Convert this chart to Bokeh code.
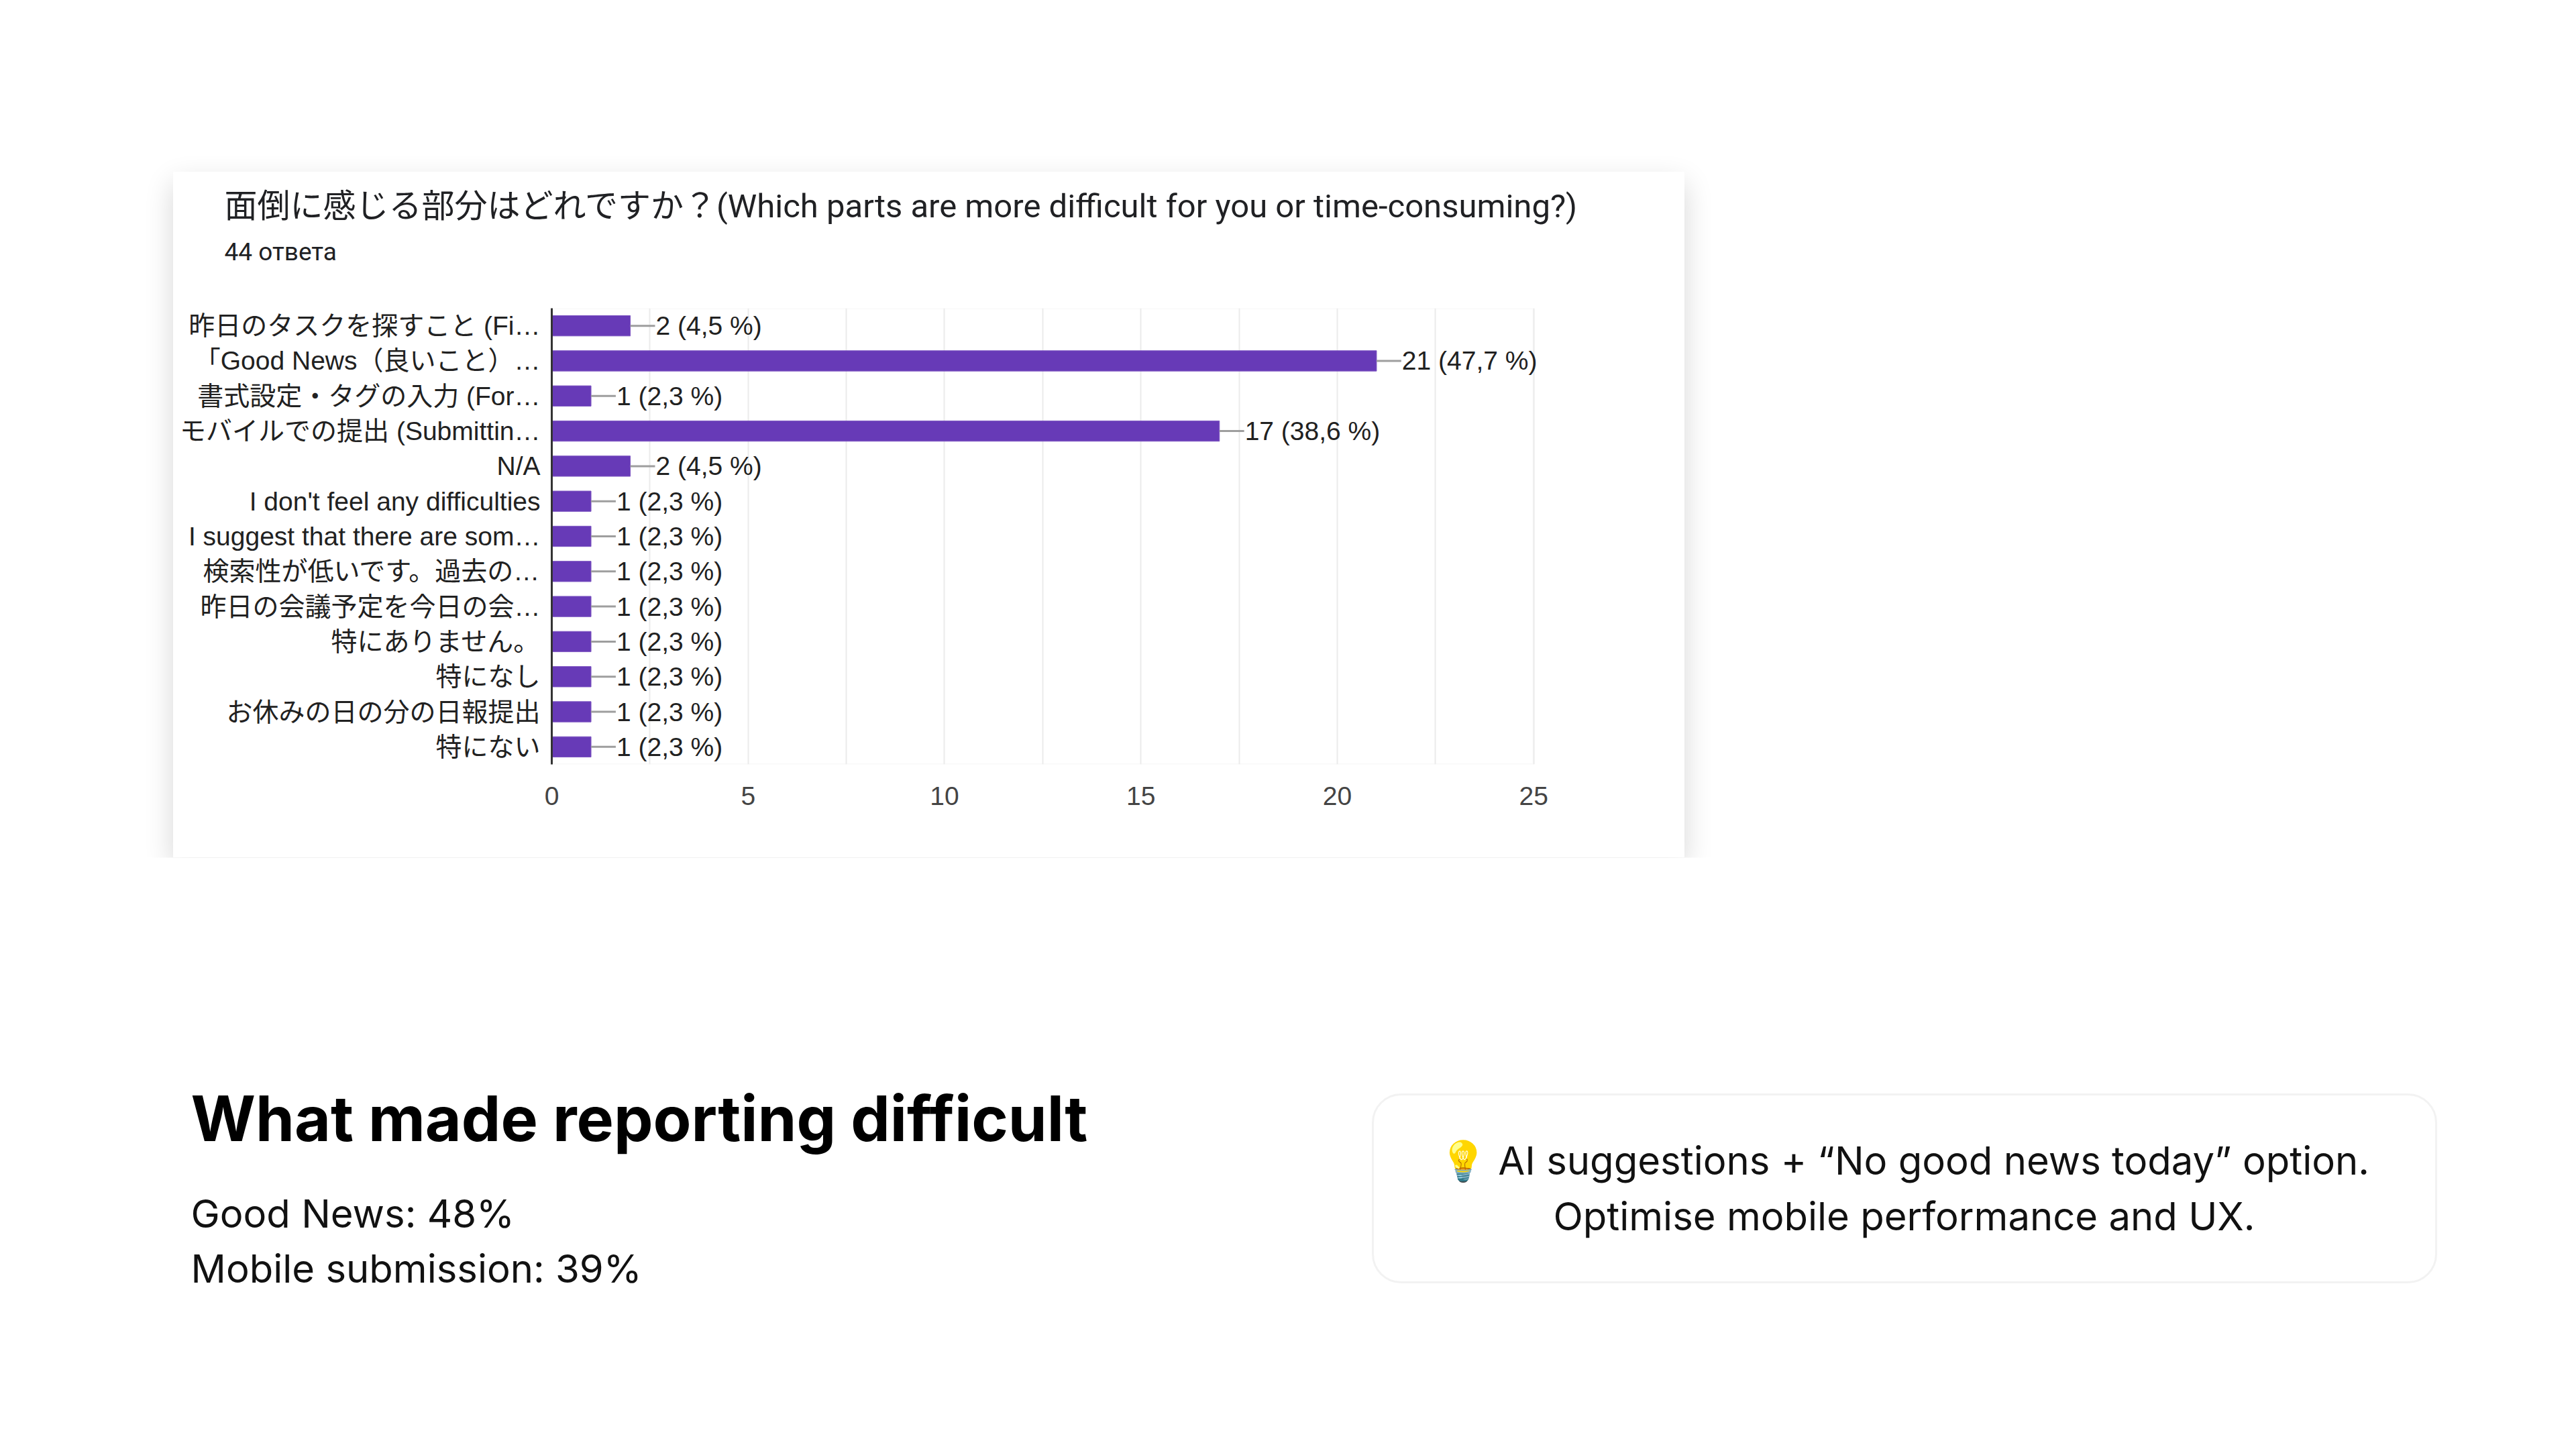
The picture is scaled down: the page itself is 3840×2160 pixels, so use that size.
from bokeh.embed import file_html
from bokeh.resources import INLINE
from bokeh.layouts import column
from bokeh.models import (ColumnDataSource, FactorRange, Range1d, Label, Title,
                          BoxAnnotation, FixedTicker)
from bokeh.plotting import figure

# survey data
answers = [
    "昨日のタスクを探すこと (Fi…",
    "「Good News（良いこと）…",
    "書式設定・タグの入力 (For…",
    "モバイルでの提出 (Submittin…",
    "N/A",
    "I don't feel any difficulties",
    "I suggest that there are som…",
    "検索性が低いです。過去の…",
    "昨日の会議予定を今日の会…",
    "特にありません。",
    "特になし",
    "お休みの日の分の日報提出",
    "特にない",
]
counts = [2, 21, 1, 17, 2, 1, 1, 1, 1, 1, 1, 1, 1]
total_responses = 44
x_ticks = [0, 5, 10, 15, 20, 25]

question = "面倒に感じる部分はどれですか？(Which parts are more difficult for you or time-consuming?)"
responses_text = f"{total_responses} ответа"

headline = "What made reporting difficult"
facts = ["Good News: 48%", "Mobile submission: 39%"]
callout = ["💡 AI suggestions + “No good news today” option.",
           "Optimise mobile performance and UX."]

HEAD_FONT = "Roboto, 'Noto Sans CJK JP'"
CHART_FONT = "'Liberation Sans', 'Noto Sans CJK JP'"
PURPLE = "#673ab7"
GRID = "#ebebeb"
GAP = 0.63          # connector length in data units
X_MAX = x_ticks[-1]
X_ROOM = 2.5        # room right of the last tick for the value labels
PX_PER_UNIT = 58.56


def pct_label(c):
    return f"{c} ({c / total_responses * 100:.1f} %)".replace(".", ",")


source = ColumnDataSource(data={
    "answer": answers,
    "count": counts,
    "line_end": [c + GAP for c in counts],
    "label": [pct_label(c) for c in counts],
})

# ---- chart card ----
frame_w = round(PX_PER_UNIT * (X_MAX + X_ROOM))
card = figure(
    y_range=FactorRange(factors=list(reversed(answers))),
    x_range=Range1d(0, X_MAX + X_ROOM),
    frame_width=frame_w, frame_height=680,
    min_border_left=564, min_border_right=2253 - 564 - frame_w,
    min_border_top=203, min_border_bottom=139,
    output_backend="svg", toolbar_location=None,
    frame_align=False,
    margin=(256, 0, 0, 258),
    styles={"box-shadow": "0 16px 40px rgba(0,0,0,0.16)"},
)
card.background_fill_color = "white"
card.border_fill_color = "white"
card.outline_line_color = None

# plot-area border, only up to the last tick
card.add_layout(BoxAnnotation(left=0, right=X_MAX, fill_alpha=0,
                              line_color=GRID, line_width=3, level="underlay"))

card.hbar(y="answer", right="count", height=0.58, source=source,
          fill_color=PURPLE, line_color="#7e57c2", line_width=1)
card.segment(x0="count", y0="answer", x1="line_end", y1="answer", source=source,
             line_color="#9e9e9e", line_width=3)
card.text(x="line_end", y="answer", text="label", source=source,
          text_font={"value": CHART_FONT}, text_font_size="39px", text_color="#212121",
          text_baseline="middle", text_align="left", x_offset=1)

xa = card.xaxis[0]
xa.ticker = FixedTicker(ticks=x_ticks,
                        minor_ticks=[t + 2.5 for t in x_ticks[:-1]])
xa.axis_line_color = None
xa.major_tick_line_color = None
xa.minor_tick_line_color = None
xa.major_label_text_font = CHART_FONT
xa.major_label_text_font_size = "39px"
xa.major_label_text_color = "#444444"
xa.major_label_standoff = 27

ya = card.yaxis[0]
ya.axis_line_color = "#333333"
ya.axis_line_width = 3
ya.major_tick_line_color = None
ya.minor_tick_line_color = None
ya.major_label_text_font = CHART_FONT
ya.major_label_text_font_size = "39px"
ya.major_label_text_color = "#212121"
ya.major_label_standoff = 11

card.ygrid.grid_line_color = None
card.xgrid.grid_line_color = GRID
card.xgrid.grid_line_width = 2
card.xgrid.minor_grid_line_color = GRID
card.xgrid.minor_grid_line_width = 2

# header of the card; the first one added sits closest to the plot
card.add_layout(Title(text=" ", text_font_size="2px", standoff=59), "above")
card.add_layout(Title(text=responses_text, align="left", offset=-488, standoff=0,
                      text_font=HEAD_FONT, text_font_size="37px",
                      text_font_style="normal", text_color="#202124"), "above")
card.add_layout(Title(text=question, align="left", offset=-488, standoff=32,
                      text_font=HEAD_FONT, text_font_size="49px",
                      text_font_style="normal", text_color="#202124"), "above")

# ---- lower half of the slide (data units = page pixels) ----
low = figure(
    width=3800, height=830,
    x_range=Range1d(8, 3808), y_range=Range1d(1286 + 830, 1286),
    x_axis_type=None, y_axis_type=None,
    min_border=0, frame_align=False,
    output_backend="svg", toolbar_location=None,
)
low.outline_line_color = None
low.grid.visible = False


def base(y, size):
    # labels sit a little below their anchor; pull them back up
    return y - 0.28 * size


low.add_layout(Label(x=292, y=base(1701, 93), text=headline, text_font="Inter",
                     text_font_style="bold", text_font_size="93px",
                     text_color="#000000", text_baseline="alphabetic"))
for i, line in enumerate(facts):
    low.add_layout(Label(x=292, y=base(1833 + i * 82, 58), text=line, text_font="Inter",
                         text_font_size="58px", text_color="#111111",
                         text_baseline="alphabetic"))

low.add_layout(BoxAnnotation(left=2054, right=3639, top=1639, bottom=1919,
                             fill_color="white", fill_alpha=1,
                             line_color="#d4d4d4", line_width=3,
                             border_radius=42))
for i, line in enumerate(callout):
    low.add_layout(Label(x=2846, y=base(1754 + i * 83, 58), text=line, text_font="Inter",
                         text_font_size="58px", text_color="#111111",
                         text_align="center", text_baseline="alphabetic"))

p = column(card, low)
open("out.html", "w").write(file_html(p, INLINE))
